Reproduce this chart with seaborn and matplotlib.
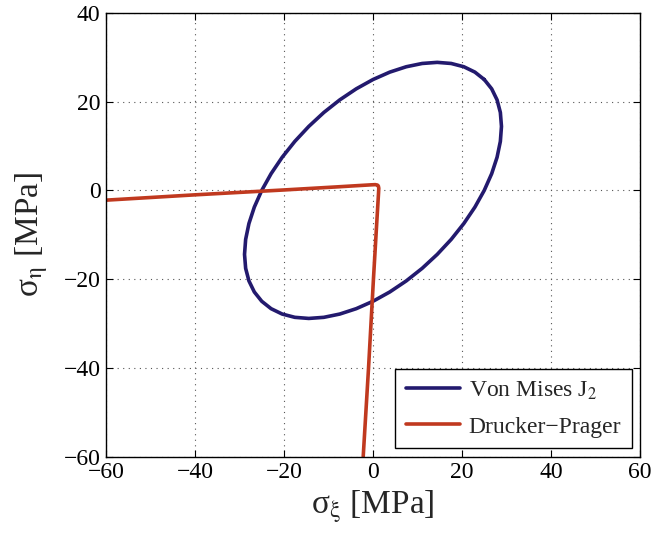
import matplotlib
matplotlib.use("Agg")
import matplotlib.pyplot as plt
import seaborn as sns
import numpy as np

# Von Mises J2 yield surface
vm_x = [25.0, 22.90, 20.41, 17.57, 14.43, 11.05, 7.47, 3.77, 0.0, -3.77, -7.47, -11.05,
        -14.43, -17.57, -20.41, -22.90, -25.0, -26.67, -27.88, -28.62, -28.87, -28.62, -27.88, -26.67,
        -25.0, -22.90, -20.41, -17.57, -14.43, -11.05, -7.47, -3.77, 0.0, 3.77, 7.47, 11.05,
        14.43, 17.57, 20.41, 22.90, 25.0, 26.67, 27.88, 28.62, 28.87, 28.62, 27.88, 26.67, 25.0]
vm_y = [25.0, 26.67, 27.88, 28.62, 28.87, 28.62, 27.88, 26.67, 25.0, 22.90, 20.41, 17.57,
        14.43, 11.05, 7.47, 3.77, 0.0, -3.77, -7.47, -11.05, -14.43, -17.57, -20.41, -22.90,
        -25.0, -26.67, -27.88, -28.62, -28.87, -28.62, -27.88, -26.67, -25.0, -22.90, -20.41, -17.57,
        -14.43, -11.05, -7.47, -3.77, 0.0, 3.77, 7.47, 11.05, 14.43, 17.57, 20.41, 22.90, 25.0]

# Drucker-Prager yield surface (visible part)
dp_x = [-60.0, -40.0, -20.0, -8.0, -3.0, -0.5, 0.5, 1.0, 1.2, 1.3, 1.25, 1.1, 0.8, 0.1, -1.0, -2.2]
dp_y = [-2.2, -1.0, 0.1, 0.8, 1.1, 1.25, 1.3, 1.2, 1.0, 0.5, -0.5, -3.0, -8.0, -20.0, -40.0, -60.0]

x_ticks = [-60, -40, -20, 0, 20, 40, 60]
y_ticks = [-60, -40, -20, 0, 20, 40]

sns.set_theme(style="white")
plt.rcParams['font.family'] = ['Liberation Serif', 'DejaVu Serif']
plt.rcParams['mathtext.fontset'] = 'stix'
plt.rcParams['axes.unicode_minus'] = True

fig = plt.figure(figsize=(6.53, 5.39), dpi=100)
ax = fig.add_axes([106 / 653, 1 - 456.5 / 539, (640 - 106) / 653, (456.5 - 13) / 539])

sns.lineplot(x=vm_x, y=vm_y, sort=False, estimator=None, ax=ax, color="#231a6e",
             linewidth=2.6, label="Von Mises J$_{\\mathrm{2}}$")
sns.lineplot(x=dp_x, y=dp_y, sort=False, estimator=None, ax=ax, color="#c0391f",
             linewidth=2.6, label="Drucker\u2212Prager")

ax.set_xlim(-60, 60)
ax.set_ylim(-60, 40)
ax.set_xticks(x_ticks)
ax.set_yticks(y_ticks)
ax.set_xticklabels([f"{v}".replace("-", "\u2212") for v in x_ticks])
ax.set_yticklabels([f"{v}".replace("-", "\u2212") for v in y_ticks])
ax.grid(True, linestyle=(0, (1, 4)), color="#555555", linewidth=0.8)
ax.tick_params(direction="in", length=5, width=0.8, colors="black", labelsize=17,
               top=True, right=True, bottom=True, left=True)
ax.tick_params(axis="y", pad=4)
ax.tick_params(axis="x", pad=4)
for s in ax.spines.values():
    s.set_color("black")
    s.set_linewidth(1.0)

ax.set_xlabel("\u03c3$_{\\mathrm{\\xi}}$ [MPa]", fontsize=24, labelpad=4)
ax.set_ylabel("\u03c3$_{\\mathrm{\\eta}}$ [MPa]", fontsize=24, labelpad=10)

leg = ax.legend(loc="lower right", fontsize=17, frameon=True, fancybox=False,
                edgecolor="black", framealpha=1, borderaxespad=0.35,
                handlelength=2.3, handletextpad=0.35, borderpad=0.45, labelspacing=0.6)
leg.get_frame().set_linewidth(1.0)

fig.savefig("out.png", dpi=100)
